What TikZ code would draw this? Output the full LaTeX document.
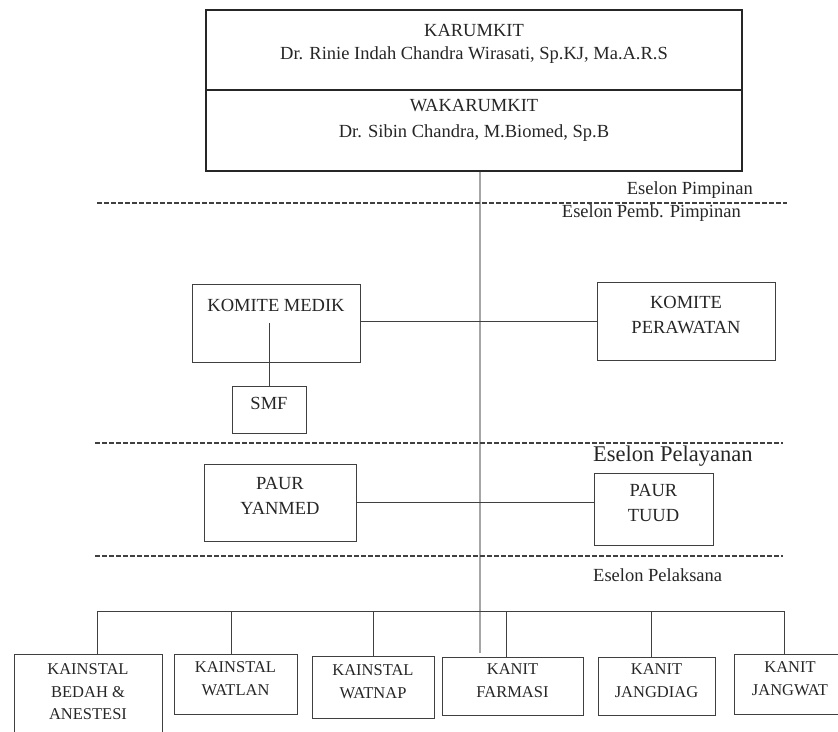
\documentclass[tikz,border=0pt]{standalone}
\usepackage{fontspec}
\setmainfont{Liberation Serif}
\usetikzlibrary{fit}
\tikzset{
  frame/.style={draw=black!75, line width=0.9pt, inner sep=0pt},
  txt/.style={align=center, inner sep=0pt, text=black!85, font=\fontsize{18.5}{25}\selectfont},
  box/.style={frame, txt},
  smallbox/.style={frame, align=center, text=black!85, font=\fontsize{16.5}{22.5}\selectfont},
  conn/.style={draw=black!75, line width=0.9pt},
  eselon/.style={draw=black!75, line width=1.2pt, dash pattern=on 4.5pt off 2.5pt},
  spine/.style={draw=black!35, line width=1.6pt}
}
\begin{document}
\begin{tikzpicture}[x=1pt,y=-1pt]
\clip (0,0) rectangle (838,731);
% pimpinan
\node[frame, line width=1.3pt, draw=black!85, fit={(206,10) (742,90)}] (karumkit) {};
\node[frame, line width=1.3pt, draw=black!85, fit={(206,90) (742,171)}] (wakarumkit) {};
\node[txt, font=\fontsize{18.5}{23}\selectfont] (karumkittxt) at (474,43.5) {KARUMKIT\\Dr. Rinie Indah Chandra Wirasati, Sp.KJ, Ma.A.R.S};
\node[txt, font=\fontsize{18.5}{26}\selectfont] (wakarumkittxt) at (474,120) {WAKARUMKIT\\Dr. Sibin Chandra, M.Biomed, Sp.B};
\coordinate (spinebot) at (480,653);
\draw[spine] (spinebot |- wakarumkit.south) -- (spinebot);

% eselon lines
\draw[eselon] (97,203) -- (787,203);
\draw[eselon] (95,443) -- (783,443);
\draw[eselon] (95,556) -- (783,556);
\node[txt, anchor=east] (pimpinan) at (753,190) {Eselon Pimpinan};
\node[txt, anchor=east] (pembpimpinan) at (741,213) {Eselon Pemb. Pimpinan};
\node[txt, font=\fontsize{22.5}{27}\selectfont, anchor=west] (pelayanan) at (593,456) {Eselon Pelayanan};
\node[txt, anchor=west] (pelaksana) at (593,575) {Eselon Pelaksana};

% komite
\node[frame, fit={(192,284) (360,362)}] (komitemedik) {};
\node[txt] (komitemediktxt) at (276,305) {KOMITE MEDIK};
\node[box, fit={(232,386) (306,433)}] (smf) {SMF};
\node[box, fit={(597,282) (775,360)}] (komiteperawatan) {KOMITE\\PERAWATAN};
\draw[conn] (smf.north) -- (smf.north |- komitemedik.center);
\draw[conn] (komitemedik.east |- komiteperawatan.west) -- (komiteperawatan.west);

% pelayanan
\node[box, fit={(204,464) (356,541)}] (paurmed) {PAUR\\YANMED};
\node[box, fit={(594,473) (713,545)}] (paurtuud) {PAUR\\TUUD};
\draw[conn] (paurmed.east) -- (paurmed.east -| paurtuud.west);

% pelaksana
\node[smallbox, fit={(14,654) (162,741)}] (kbedah) {KAINSTAL\\BEDAH \&\\ANESTESI};
\node[smallbox, fit={(174,654) (297,714)}] (kwatlan) {KAINSTAL\\WATLAN};
\node[smallbox, fit={(312,656) (434,718)}] (kwatnap) {KAINSTAL\\WATNAP};
\node[smallbox, fit={(442,657) (583,715)}] (kfarmasi) {KANIT\\FARMASI};
\node[smallbox, fit={(598,657) (715,715)}] (kjangdiag) {KANIT\\JANGDIAG};
\node[smallbox, fit={(734,654) (846,714)}] (kjangwat) {KANIT\\JANGWAT};
\coordinate (busL) at (97,611);
\coordinate (busR) at (784,611);
\draw[conn] (busL) -- (busR);
\foreach \b/\s in {kbedah/9, kwatlan/-4.5, kwatnap/0, kfarmasi/-6.5, kjangdiag/-5.5, kjangwat/-6}
  \draw[conn] ([xshift=\s pt]\b.north) -- ([xshift=\s pt]\b.north |- busL);
\end{tikzpicture}
\end{document}
